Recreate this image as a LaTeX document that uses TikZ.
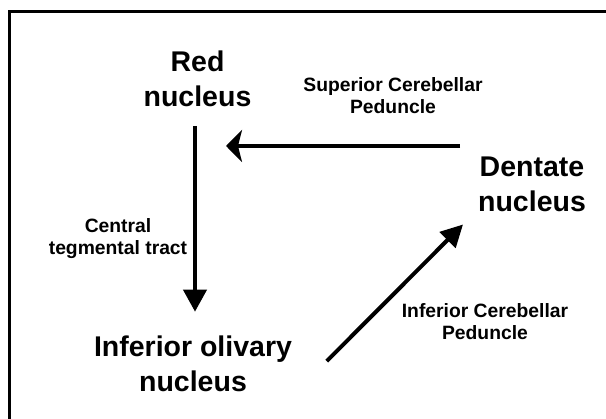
\documentclass[tikz,border=0pt]{standalone}
\usepackage{fontspec}
\setmainfont{Liberation Sans}
\usetikzlibrary{arrows.meta}
\begin{document}
\begin{tikzpicture}[x=1pt,y=-1pt,
  nucleus/.style={inner sep=0pt,align=center,anchor=base,font=\fontsize{28.5}{35}\selectfont\bfseries},
  tract/.style={inner sep=0pt,align=center,anchor=base,font=\fontsize{19.3}{22}\selectfont\bfseries},
  link/.style={line width=4pt}
]
\useasboundingbox (0,0) rectangle (606,419);
% frame (only top and left edges visible)
\draw[line width=3pt] (9.6,430) -- (9.6,11.7) -- (620,11.7);
% nuclei (anchor = baseline of the last line)
\node[nucleus] (red) at (197.5,106.7) {Red\\nucleus};
\node[nucleus] (olive) at (193,391.7) {Inferior olivary\\nucleus};
\node[nucleus] (dent) at (532,211.7) {Dentate\\nucleus};
% tract labels
\node[tract] (scp) at (393,113.5) {Superior Cerebellar\\Peduncle};
\node[tract] (ctt) at (118,255) {Central\\tegmental tract};
\node[tract] (icp) at (485,340) {Inferior Cerebellar\\Peduncle};
% connector ends
\coordinate (redS) at (195,126);
\coordinate (oliveN) at (195,311.7);
\coordinate (dentW) at (460,146);
\coordinate (redE) at (226,146);
\coordinate (oliveE) at (326.7,361.2);
\coordinate (dentSW) at (463,224.5);
% connectors
\draw[link,-{Triangle[length=22pt,width=23pt]}] (redS) -- (oliveN);
\draw[link,-{Stealth[length=16pt,width=32pt,inset=4pt]}] (dentW) -- (redE);
\draw[link,-{Triangle[length=22pt,width=22pt]}] (oliveE) -- (dentSW);
\end{tikzpicture}
\end{document}
